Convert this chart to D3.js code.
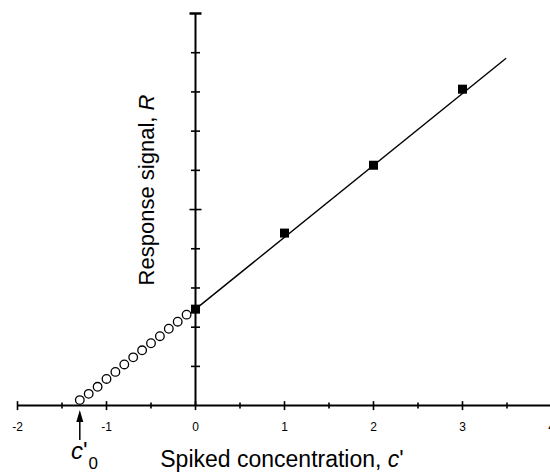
<!DOCTYPE html>
<html>
<head>
<meta charset="utf-8">
<script src="https://cdn.jsdelivr.net/npm/d3@7"></script>
<style>
  body { margin: 0; background: #fff; }
  text { font-family: "Liberation Sans", Arial, sans-serif; fill: #000; }
  .tick-label { font-size: 12px; }
</style>
</head>
<body>
<div id="chart"></div>
<script>
// spiked standards (filled squares)
var spikedConc = [0, 1, 2, 3];
var spikedResp = [2.46, 4.40, 6.13, 8.07];

// extrapolated points (open circles)
var extrapConc = [-1.3, -1.2, -1.1, -1.0, -0.9, -0.8, -0.7, -0.6, -0.5, -0.4, -0.3, -0.2, -0.1];
var extrapResp = [0.14, 0.30, 0.48, 0.68, 0.86, 1.05, 1.23, 1.41, 1.59, 1.77, 1.96, 2.14, 2.32];

// fitted line end points
var fitConc = [0, 3.49];
var fitResp = [2.46, 8.86];

var xTickLabels = ['-2', '-1', '0', '1', '2', '3', '4'];

var width = 550, height = 472;

var svg = d3.select('#chart')
    .append('svg')
    .attr('width', width)
    .attr('height', height);

var x = d3.scaleLinear().domain([-2, 4]).range([17.5, 551.5]);
var y = d3.scaleLinear().domain([0, 10]).range([405.6, 13.5]);

// x axis
svg.append('line')
    .attr('x1', x(-2)).attr('x2', 550)
    .attr('y1', y(0)).attr('y2', y(0))
    .style('stroke', '#000').style('stroke-width', 2);

var xMinor = d3.range(-2, 4.01, 0.5);
svg.selectAll('.x-tick')
    .data(xMinor)
    .enter().append('line')
    .attr('class', 'x-tick')
    .attr('x1', function(d) { return x(d); })
    .attr('x2', function(d) { return x(d); })
    .attr('y1', function(d) { return y(0) - (d % 1 === 0 ? 4.5 : 3); })
    .attr('y2', function(d) { return y(0) + (d % 1 === 0 ? 4.5 : 3); })
    .style('stroke', '#000').style('stroke-width', 1.6);

svg.selectAll('.tick-label')
    .data(xTickLabels)
    .enter().append('text')
    .attr('class', 'tick-label')
    .attr('x', function(d) { return x(+d); })
    .attr('y', 431)
    .style('text-anchor', 'middle')
    .text(function(d) { return d; });

// y axis
svg.append('line')
    .attr('x1', x(0)).attr('x2', x(0))
    .attr('y1', y(0)).attr('y2', y(10))
    .style('stroke', '#000').style('stroke-width', 2);

svg.selectAll('.y-tick')
    .data(d3.range(1, 11))
    .enter().append('line')
    .attr('class', 'y-tick')
    .attr('x1', function(d) { return x(0) - (d % 5 === 0 ? 6 : 4.5); })
    .attr('x2', function(d) { return x(0) + (d % 5 === 0 ? 6 : 4.5); })
    .attr('y1', function(d) { return y(d); })
    .attr('y2', function(d) { return y(d); })
    .style('stroke', '#000')
    .style('stroke-width', function(d) { return d === 10 ? 2.5 : 1.6; });

// fit line
svg.append('line')
    .attr('x1', x(fitConc[0])).attr('y1', y(fitResp[0]))
    .attr('x2', x(fitConc[1])).attr('y2', y(fitResp[1]))
    .style('stroke', '#000').style('stroke-width', 1.4);

// open circles
svg.selectAll('.extrap')
    .data(extrapConc)
    .enter().append('circle')
    .attr('class', 'extrap')
    .attr('cx', function(d) { return x(d); })
    .attr('cy', function(d, i) { return y(extrapResp[i]); })
    .attr('r', 4.3)
    .style('fill', '#fff')
    .style('stroke', '#000')
    .style('stroke-width', 1.3);

// filled squares
var sq = 9;
svg.selectAll('.spiked')
    .data(spikedConc)
    .enter().append('rect')
    .attr('class', 'spiked')
    .attr('x', function(d) { return x(d) - sq / 2; })
    .attr('y', function(d, i) { return y(spikedResp[i]) - sq / 2; })
    .attr('width', sq)
    .attr('height', sq)
    .style('fill', '#000');

// arrow to c'0
var arrowX = x(-1.3);
svg.append('line')
    .attr('x1', arrowX).attr('x2', arrowX)
    .attr('y1', 440).attr('y2', 420)
    .style('stroke', '#000').style('stroke-width', 1.5);
svg.append('path')
    .attr('d', 'M' + arrowX + ',' + 410 + ' L' + (arrowX - 3.5) + ',' + 422 + ' L' + (arrowX + 3.5) + ',' + 422 + ' Z')
    .style('fill', '#000');

var c0 = svg.append('text')
    .attr('x', 71)
    .attr('y', 459)
    .style('font-size', '24px');
c0.append('tspan').style('font-style', 'italic').text('c');
c0.append('tspan').text("'");
c0.append('tspan').attr('dy', 10).attr('dx', 1).style('font-size', '17px').text('0');

// axis titles
var xt = svg.append('text')
    .attr('x', 282)
    .attr('y', 467)
    .style('font-size', '23px')
    .style('text-anchor', 'middle');
xt.append('tspan').text('Spiked concentration, ');
xt.append('tspan').style('font-style', 'italic').text('c');
xt.append('tspan').text("'");

var yt = svg.append('text')
    .attr('transform', 'translate(154,190) rotate(-90)')
    .style('font-size', '22px')
    .style('text-anchor', 'middle');
yt.append('tspan').text('Response signal, ');
yt.append('tspan').style('font-style', 'italic').text('R');
</script>
</body>
</html>
